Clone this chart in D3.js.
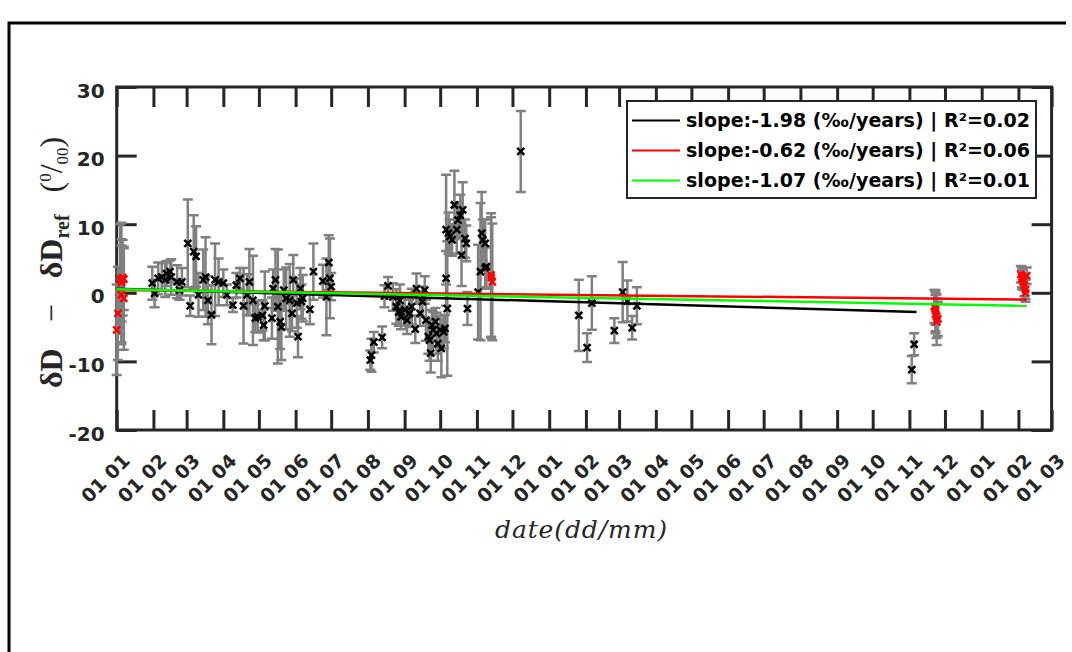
<!DOCTYPE html>
<html>
<head>
<meta charset="utf-8">
<script src="https://cdn.jsdelivr.net/npm/d3@7"></script>
<style>
  body { margin: 0; background: #fff; }
  svg { display: block; }
</style>
</head>
<body>
<div id="chart"></div>
<script>
// ---- data (days counted from 1 Jan 2017) ----
const blackDay = [30, 32, 35, 38, 41, 42, 45, 46, 51, 53, 55, 60, 62, 65, 67, 69, 73, 75, 77, 80,
  83, 86, 90, 93, 98, 101, 104, 107, 110, 112, 115, 117, 119, 123, 124, 125, 131, 132, 134, 136,
  138, 139, 141, 143, 146, 148, 149, 152, 153, 155, 156, 157, 163, 166, 174, 177, 179, 180, 181,
  214, 215, 217, 224, 226, 229, 233, 236, 238, 239, 240, 243, 245, 247, 249, 252, 253, 256, 258,
  260, 261, 263, 264, 265, 266, 267, 269, 270, 271, 273, 274, 276, 277, 278, 279, 278, 280, 281,
  283, 285, 287, 288, 290, 292, 291, 294, 295, 296, 305, 307, 308, 309, 311, 311, 312, 341,
  390, 397, 401, 420, 427, 431, 435, 439, 673, 671];
const blackVal = [1.4, -0.1, 2.1, 2.3, 1.9, 2.8, 3.1, 2.3, 1.6, 0.4, 1.6, 7.2, -1.9, 6.0, 5.3, -0.3, 1.9, 2.3, -1.1, -3.2,
  1.9, 1.6, 1.4, -0.3, -1.8, 1.1, 2.1, -1.9, -0.3, 1.6, -1.1, -3.7, -3.5, -3.3, -4.7, -1.9, -3.7, 0.6, 1.9, -2.0,
  -4.2, -5.0, 0.4, -0.8, -1.1, -3.0, 1.9, -1.5, -6.4, 0.6, -1.3, -0.8, -2.4, 3.1, 1.7, -0.6, 4.4, 2.1, 0.9,
  -9.8, -9.1, -7.2, -6.5, -0.5, 1.0, -0.6, -2.0, -2.8, -1.1, -3.5, -2.5, -4.0, -3.0, -2.0, -5.3, 0.6, -3.0, -1.3,
  0.4, -4.0, -6.4, -6.9, -8.8, -4.7, -5.4, -4.2, -5.9, -7.4, -5.4, -8.1, -5.7, -5.2, 2.1, -2.3, 9.2, 8.7, 8.2,
  7.7, 12.8, 9.2, 10.6, 11.3, 12.1, 5.5, 7.9, 7.2, -2.3, 0.1, 3.1, 8.7, 7.7, 7.2, 3.6, 3.8, 20.6,
  -3.3, -8.0, -1.5, -5.5, 0.1, -1.2, -5.1, -1.9, -7.5, -11.2];
const blackErr = [2.4, 2.0, 2.3, 2.0, 2.5, 1.8, 1.6, 2.6, 2.4, 1.4, 2.0, 6.4, 1.5, 5.3, 4.4, 3.2, 4.4, 5.8, 3.5, 4.3,
  5.3, 3.4, 2.0, 1.5, 1.0, 1.8, 1.5, 5.5, 3.0, 4.8, 6.5, 2.0, 2.3, 2.2, 2.2, 5.0, 3.0, 2.8, 4.5, 8.3,
  4.0, 4.8, 3.0, 4.5, 5.3, 2.6, 3.6, 3.6, 3.0, 3.0, 2.5, 3.4, 2.2, 4.1, 2.4, 5.6, 4.0, 5.8, 2.0,
  1.4, 2.4, 1.5, 1.6, 1.6, 1.3, 2.0, 2.5, 2.0, 2.3, 1.8, 2.2, 2.0, 2.0, 2.6, 2.0, 2.2, 1.8, 2.2,
  2.0, 3.0, 2.5, 3.0, 2.8, 2.2, 2.6, 2.0, 3.0, 2.5, 2.0, 4.2, 2.4, 2.0, 4.0, 9.8, 8.0, 3.0, 2.5,
  2.3, 5.0, 3.5, 2.6, 3.0, 4.0, 4.5, 2.8, 2.6, 2.4, 6.9, 10.0, 6.0, 3.0, 3.5, 3.0, 3.0, 5.9,
  5.2, 2.1, 3.9, 1.8, 4.4, 3.0, 1.7, 2.7, 1.6, 2.0];

const redDay = [0, 1, 3, 4, 5, 4, 6, 4, 6,
  316, 317, 316,
  690, 691, 691, 692, 693, 692, 691,
  763, 764, 764, 765, 766, 767, 767, 768];
const redVal = [-5.4, -3.0, 2.0, 1.5, 2.2, -0.3, -0.8, 1.8, 2.0,
  2.6, 1.6, 2.2,
  -2.0, -2.6, -3.1, -3.4, -3.8, -4.2, -2.3,
  2.7, 2.3, 2.0, 1.6, 1.1, 0.5, 0.0, 2.5];
const redErr = [6.6, 6.8, 8.0, 8.7, 5.5, 7.2, 7.5, 6.0, 4.5,
  9.0, 8.5, 8.8,
  2.4, 3.0, 2.8, 3.2, 2.5, 3.4, 2.4,
  1.2, 1.5, 1.4, 1.2, 1.6, 1.4, 1.3, 1.2];

// regression lines
const fitLabels = [
  'slope:-1.98 (\u2030/years) | R\u00b2=0.02',
  'slope:-0.62 (\u2030/years) | R\u00b2=0.06',
  'slope:-1.07 (\u2030/years) | R\u00b2=0.01'
];
const fitColors = ['#000000', '#ff0000', '#00ff00'];
const fitStartDay = [0, 0, 0];
const fitEndDay = [675, 768, 768];
const fitStartVal = [0.6, 0.4, 0.5];
const fitEndVal = [-2.8, -1.0, -1.9];

const yTicks = [-20, -10, 0, 10, 20, 30];
const startDate = new Date(2017, 0, 1);
const endDate = new Date(2019, 2, 1);

// ---- layout ----
const W = 1072, H = 652;
const plot = { left: 116.7, right: 1051.6, top: 87, bottom: 430 };
const axisColor = '#262626';
const tickFont = "'DejaVu Sans', sans-serif";

const svg = d3.select('#chart').append('svg')
  .attr('width', W).attr('height', H);

// figure frame
svg.append('path')
  .attr('d', `M9,${H + 5} V23 H1066`)
  .attr('fill', 'none')
  .attr('stroke', '#000')
  .attr('stroke-width', 3);

const x = d3.scaleTime().domain([startDate, endDate]).range([plot.left, plot.right]);
const y = d3.scaleLinear().domain([-20, 30]).range([plot.bottom, plot.top]);
const dayToDate = d => d3.timeDay.offset(startDate, d);

const months = d3.timeMonth.range(startDate, d3.timeDay.offset(endDate, 1));
const fmt = d3.timeFormat('%d %m');

// axes
const gx = svg.append('g').attr('transform', `translate(0,${plot.bottom})`)
  .call(d3.axisBottom(x).tickValues(months).tickFormat(fmt).tickSizeInner(-20).tickSizeOuter(0));
gx.selectAll('text')
  .attr('y', null).attr('dy', null)
  .attr('text-anchor', 'end')
  .attr('transform', 'translate(14,32) rotate(-45)');

svg.append('g').attr('transform', `translate(0,${plot.top})`)
  .call(d3.axisTop(x).tickValues(months).tickFormat('').tickSizeInner(-20).tickSizeOuter(0));

const gy = svg.append('g').attr('transform', `translate(${plot.left},0)`)
  .call(d3.axisLeft(y).tickValues(yTicks).tickFormat(d => String(d))
    .tickSizeInner(-20).tickSizeOuter(0).tickPadding(12));
gy.selectAll('text').attr('dy', '0.5em');

svg.append('g').attr('transform', `translate(${plot.right},0)`)
  .call(d3.axisRight(y).tickValues(yTicks).tickFormat('').tickSizeInner(-20).tickSizeOuter(0));

svg.selectAll('.domain').remove();
svg.selectAll('.tick line').attr('stroke', axisColor).attr('stroke-width', 3);
svg.selectAll('.tick text')
  .attr('fill', axisColor)
  .style('font-family', tickFont)
  .style('font-weight', 'bold')
  .style('font-size', '19px');
gy.selectAll('text').style('font-size', '20px');

svg.append('rect')
  .attr('x', plot.left).attr('y', plot.top)
  .attr('width', plot.right - plot.left).attr('height', plot.bottom - plot.top)
  .attr('fill', 'none').attr('stroke', axisColor).attr('stroke-width', 3);

// points
const blackPts = blackDay.map((d, i) => ({ date: dayToDate(d), v: blackVal[i], e: blackErr[i], c: '#000' }));
const redPts = redDay.map((d, i) => ({ date: dayToDate(d), v: redVal[i], e: redErr[i], c: '#ff0000' }));
const allPts = blackPts.concat(redPts);

const errG = svg.append('g').attr('stroke', '#808080').attr('stroke-width', 2.5).attr('fill', 'none');
errG.selectAll('path').data(allPts).join('path')
  .attr('d', d => {
    const cx = x(d.date), y1 = y(d.v - d.e), y2 = y(d.v + d.e);
    return `M${cx},${y1}V${y2}M${cx - 5},${y1}H${cx + 5}M${cx - 5},${y2}H${cx + 5}`;
  });

svg.append('g').selectAll('path').data(allPts).join('path')
  .attr('transform', d => `translate(${x(d.date)},${y(d.v)})`)
  .attr('d', 'M-3.5,-3.5L3.5,3.5M-3.5,3.5L3.5,-3.5')
  .attr('stroke', d => d.c)
  .attr('stroke-width', 2.5);

// fit lines
const fits = fitLabels.map((l, i) => ({
  label: l, color: fitColors[i],
  pts: [[dayToDate(fitStartDay[i]), fitStartVal[i]], [dayToDate(fitEndDay[i]), fitEndVal[i]]]
}));
const line = d3.line().x(d => x(d[0])).y(d => y(d[1]));
svg.append('g').selectAll('path').data(fits).join('path')
  .attr('d', d => line(d.pts))
  .attr('stroke', d => d.color)
  .attr('stroke-width', 2.5)
  .attr('fill', 'none');

// legend
const lg = svg.append('g');
lg.append('rect')
  .attr('x', 627).attr('y', 101).attr('width', 409).attr('height', 97)
  .attr('fill', '#fff').attr('stroke', axisColor).attr('stroke-width', 2);
fits.forEach((f, i) => {
  const ry = 120.5 + i * 30;
  lg.append('line').attr('x1', 632).attr('x2', 680).attr('y1', ry).attr('y2', ry)
    .attr('stroke', f.color).attr('stroke-width', 2);
  lg.append('text').attr('x', 686).attr('y', ry).attr('dy', '0.36em')
    .attr('textLength', 344).attr('lengthAdjust', 'spacing')
    .style('font-family', tickFont).style('font-weight', 'bold').style('font-size', '19px')
    .text(f.label);
});

// axis labels
const serif = "'Liberation Serif', 'Times New Roman', serif";
const yl = svg.append('text')
  .attr('transform', 'translate(62,388) rotate(-90)')
  .attr('text-anchor', 'start')
  .style('font-family', serif).style('font-size', '32px').attr('fill', axisColor);
yl.append('tspan').style('font-weight', 'bold').text('\u03b4D');
yl.append('tspan').attr('dx', 26).text('\u2212');
yl.append('tspan').attr('dx', 26).style('font-weight', 'bold').text('\u03b4D');
yl.append('tspan').style('font-weight', 'bold').style('font-size', '20px').attr('dy', 7).text('ref');
yl.append('tspan').attr('dx', 22).attr('dy', -7).text('(');
yl.append('tspan').style('font-size', '17px').attr('dy', -11).text('0');
yl.append('tspan').attr('dy', 11).text('/');
yl.append('tspan').style('font-size', '17px').attr('dy', 6).text('00');
yl.append('tspan').attr('dy', -6).text(')');

svg.append('text')
  .attr('x', 581).attr('y', 538)
  .attr('text-anchor', 'middle')
  .attr('textLength', 172).attr('lengthAdjust', 'spacing')
  .style('font-family', "'DejaVu Serif', serif").style('font-style', 'italic').style('font-size', '25px')
  .attr('fill', axisColor)
  .text('date(dd/mm)');
</script>
</body>
</html>
